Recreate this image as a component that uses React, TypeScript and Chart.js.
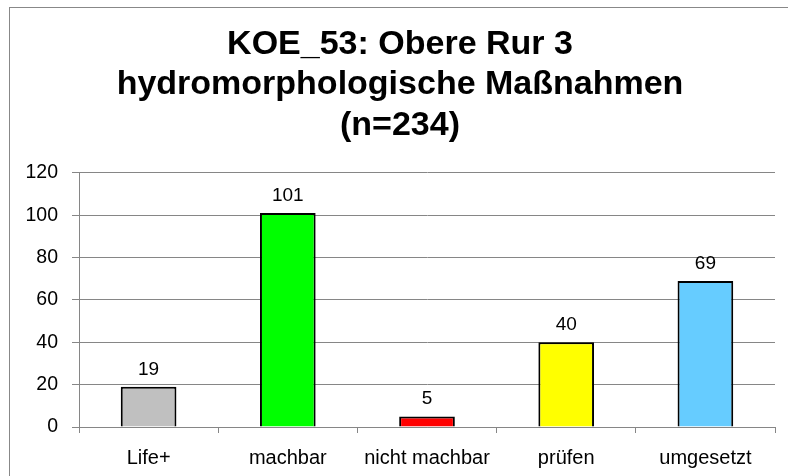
import React, { useEffect, useRef } from "react";
import { Chart, registerables } from "chart.js";

Chart.register(...registerables);

const categories: string[] = ["Life+", "machbar", "nicht machbar", "prüfen", "umgesetzt"];
const counts: number[] = [19, 101, 5, 40, 69];
const barColors: string[] = ["#C0C0C0", "#00FF00", "#FF0000", "#FFFF00", "#66CCFF"];
const titleLines: string[] = ["KOE_53: Obere Rur 3", "hydromorphologische Maßnahmen", "(n=234)"];
const yMin = 0;
const yMax = 120;
const yStep = 20;

const FONT = "'Liberation Sans', Arial, sans-serif";

const valueLabels = {
  id: "valueLabels",
  afterDatasetsDraw(chart: any) {
    const ctx = chart.ctx;
    const meta = chart.getDatasetMeta(0);
    ctx.save();
    ctx.font = `19px ${FONT}`;
    ctx.fillStyle = "#000";
    ctx.textAlign = "center";
    ctx.textBaseline = "alphabetic";
    meta.data.forEach((bar: any, i: number) => {
      const v = chart.data.datasets[0].data[i];
      ctx.fillText(String(v), bar.x, bar.y - 12);
    });
    ctx.restore();
  },
};

export default function App() {
  const ref = useRef<HTMLCanvasElement | null>(null);

  useEffect(() => {
    if (!ref.current) return;
    const chart = new Chart(ref.current, {
      type: "bar",
      data: {
        labels: categories,
        datasets: [
          {
            data: counts,
            backgroundColor: barColors,
            borderColor: "#000",
            borderWidth: 2,
            barPercentage: 0.4,
            categoryPercentage: 1,
          },
        ],
      },
      options: {
        responsive: false,
        animation: false,
        devicePixelRatio: 1,
        layout: { padding: { left: 15, right: 15, top: 0, bottom: 0 } },
        plugins: {
          legend: { display: false },
          tooltip: { enabled: false },
          title: {
            display: true,
            text: titleLines,
            color: "#000",
            font: { family: FONT, size: 34, weight: "bold", lineHeight: 1.19 },
            padding: { top: 16, bottom: 27.5 },
          },
        },
        scales: {
          x: {
            grid: {
              display: true,
              drawOnChartArea: false,
              drawTicks: true,
              tickLength: 6,
              color: "#868686",
              offset: true,
            },
            border: { display: true, color: "#868686", width: 1 },
            ticks: {
              color: "#000",
              font: { family: FONT, size: 20 },
              padding: 13,
              maxRotation: 0,
              autoSkip: false,
            },
            afterFit: (scale: any) => {
              scale.height = 49;
            },
          },
          y: {
            min: yMin,
            max: yMax,
            ticks: {
              stepSize: yStep,
              color: "#000",
              font: { family: FONT, size: 19.5 },
              padding: 14,
            },
            grid: {
              color: "#868686",
              tickLength: 7,
              drawTicks: true,
            },
            border: { display: true, color: "#868686", width: 1 },
            afterFit: (scale: any) => {
              scale.width = 54;
            },
          },
        },
      },
      plugins: [valueLabels],
    });
    return () => chart.destroy();
  }, []);

  return (
    <div
      style={{
        position: "fixed",
        left: 0,
        top: 0,
        width: 788,
        height: 476,
        overflow: "hidden",
        background: "#fff",
      }}
    >
      <div
        style={{
          position: "absolute",
          left: 9,
          top: 7,
          width: 800,
          height: 500,
          border: "1px solid #888",
          boxSizing: "border-box",
        }}
      />
      <canvas
        ref={ref}
        width={780}
        height={468}
        style={{ position: "absolute", left: 10, top: 8, width: 780, height: 468 }}
      />
    </div>
  );
}
